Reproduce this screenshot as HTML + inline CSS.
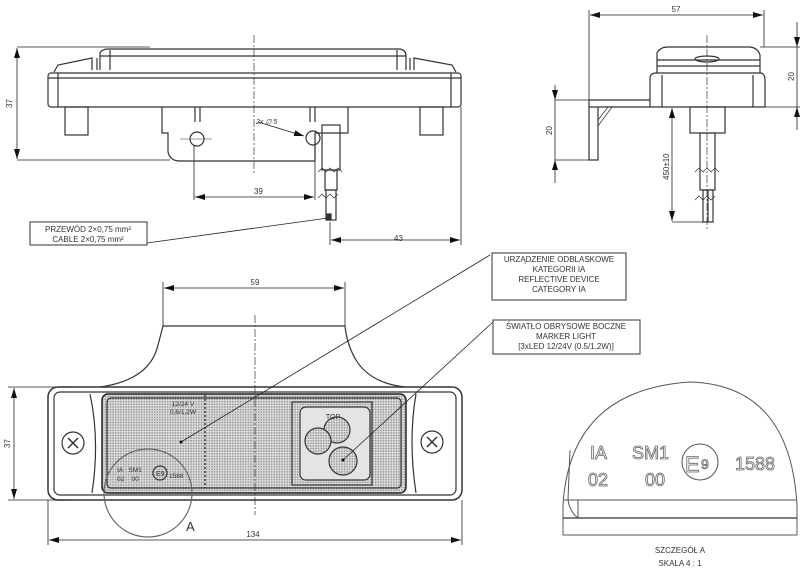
<!DOCTYPE html>
<html><head><meta charset="utf-8"><style>
html,body{margin:0;padding:0;background:#fff}
svg{display:block}
text{font-family:"Liberation Sans",sans-serif;fill:#333}
</style></head><body>
<svg width="810" height="578" viewBox="0 0 810 578" xmlns="http://www.w3.org/2000/svg">
<defs>
<marker id="ar" viewBox="0 0 10 6" refX="10" refY="3" markerWidth="10" markerHeight="6" orient="auto-start-reverse" markerUnits="userSpaceOnUse"><path d="M0,0L10,3L0,6z" fill="#111"/></marker>
<pattern id="dots" width="2.6" height="2.6" patternUnits="userSpaceOnUse"><rect width="2.6" height="2.6" fill="#ddd"/><circle cx="1.3" cy="1.3" r="0.8" fill="#888"/></pattern>
</defs>
<g fill="none" stroke="#333" stroke-width="1.2">
<!-- TOP VIEW -->
<line x1="254" y1="35" x2="254" y2="175" stroke-dasharray="8,2,2,2" stroke-width="0.7"/>
<path d="M100,70 L100,53 Q102,49 108,49 L400,49 Q406,50 406,56 L406,70"/>
<line x1="110" y1="50" x2="110" y2="70"/><line x1="397" y1="50" x2="397" y2="70"/>
<line x1="100" y1="56" x2="406" y2="56"/>
<path d="M92,70 L92,58 L58,65 L54,72"/><path d="M97,70 L97,58"/>
<path d="M414,70 L414,58 L452,65 L456,72"/><path d="M410,70 L410,58"/>
<rect x="48" y="73" width="413" height="34" rx="3"/>
<line x1="48" y1="78" x2="461" y2="78"/>
<line x1="58" y1="73" x2="58" y2="107"/><line x1="451" y1="73" x2="451" y2="107"/>
<rect x="65" y="107" width="23" height="28"/><rect x="420" y="107" width="23" height="28"/>
<path d="M162,107 L162,133 L168,133 L168,152 Q170,161 180,161 L315,161 L315,133 L348,133 L348,107"/>
<path d="M195,107 L195,122 M200,107 L200,122 M310,107 L310,122 M315,107 L315,122"/>
<circle cx="197" cy="139" r="7"/><circle cx="313" cy="138" r="7"/>
<line x1="180" y1="139" x2="212" y2="139" stroke-width="0.5"/>
<rect x="322" y="125" width="18" height="45"/>
<rect x="325" y="170" width="12" height="20"/>
<rect x="326" y="190" width="10" height="30"/>
<path d="M318,172 l4,-4 l4,4 l4,-4 l4,4 l4,-4 l4,4 M318,198 l4,-4 l4,4 l4,-4 l4,4 l4,-4" stroke-width="0.7"/>
<rect x="327" y="214" width="4" height="6" fill="#333"/>
<g stroke="#222" stroke-width="0.8">
<line x1="17" y1="47" x2="150" y2="47"/><line x1="17" y1="160" x2="170" y2="160"/>
<line x1="17" y1="48" x2="17" y2="159" marker-start="url(#ar)" marker-end="url(#ar)"/>
<line x1="194" y1="145" x2="194" y2="200"/><line x1="315" y1="145" x2="315" y2="200"/>
<line x1="195" y1="197" x2="314" y2="197" marker-start="url(#ar)" marker-end="url(#ar)"/>
<line x1="461" y1="107" x2="461" y2="245"/><line x1="330" y1="222" x2="330" y2="245"/>
<line x1="331" y1="240" x2="460" y2="240" marker-start="url(#ar)" marker-end="url(#ar)"/>
<line x1="258" y1="122" x2="304" y2="136" marker-end="url(#ar)"/>
<line x1="147" y1="243" x2="328" y2="218"/>
</g>
<rect x="30" y="222" width="117" height="23" stroke="#555"/>
</g>
<text x="12" y="108" font-size="8" transform="rotate(-90 12 108)">37</text>
<text x="256" y="124" font-size="7" font-style="italic">2x ∅ 5</text>
<text x="254" y="194" font-size="8">39</text>
<text x="394" y="241" font-size="8">43</text>
<text x="88" y="232" font-size="8" text-anchor="middle">PRZEWÓD 2×0,75 mm²</text>
<text x="88" y="242" font-size="8" text-anchor="middle">CABLE 2×0,75 mm²</text>

<!-- SIDE VIEW -->
<g fill="none" stroke="#333" stroke-width="1.2">
<line x1="707" y1="35" x2="707" y2="230" stroke-dasharray="8,2,2,2" stroke-width="0.7"/>
<path d="M657,73 L657,53 Q660,47 668,47 L750,47 Q758,48 760,55 L760,73"/>
<line x1="657" y1="60" x2="760" y2="60"/><line x1="657" y1="66" x2="760" y2="66"/>
<ellipse cx="707" cy="59" rx="12" ry="3"/>
<path d="M650,107 L650,77 Q651,73 656,73 L761,73 Q765,74 765,80 L765,107"/>
<line x1="662" y1="75" x2="662" y2="107"/><line x1="753" y1="75" x2="753" y2="107"/>
<path d="M589,100 L650,100 M589,107 L765,107 M589,100 L589,160 L598,160 L598,107 M589,107 L598,107"/>
<path d="M598,120 L608,107 M598,126 L612,107" stroke-width="0.7"/>
<rect x="690" y="107" width="35" height="26"/>
<rect x="700" y="133" width="15" height="57"/>
<rect x="703" y="190" width="10" height="32"/>
<line x1="708" y1="190" x2="708" y2="222"/>
<path d="M695,172 l4,-4 l4,4 l4,-4 l4,4 l4,-4 l4,4 M695,200 l4,-4 l4,4 l4,-4 l4,4 l4,-4" stroke-width="0.7"/>
<g stroke="#222" stroke-width="0.8">
<line x1="589" y1="10" x2="589" y2="100"/><line x1="764" y1="10" x2="764" y2="47"/>
<line x1="590" y1="15" x2="763" y2="15" marker-start="url(#ar)" marker-end="url(#ar)"/>
<line x1="760" y1="47" x2="800" y2="47"/><line x1="765" y1="107" x2="800" y2="107"/>
<line x1="797" y1="22" x2="797" y2="47" marker-end="url(#ar)"/>
<line x1="797" y1="130" x2="797" y2="107" marker-end="url(#ar)"/>
<line x1="797" y1="47" x2="797" y2="107"/>
<line x1="555" y1="100" x2="589" y2="100"/><line x1="555" y1="160" x2="589" y2="160"/>
<line x1="555" y1="85" x2="555" y2="100" marker-end="url(#ar)"/>
<line x1="555" y1="183" x2="555" y2="160" marker-end="url(#ar)"/>
<line x1="555" y1="100" x2="555" y2="160"/>
<line x1="672" y1="108" x2="672" y2="221" marker-start="url(#ar)" marker-end="url(#ar)"/>
<line x1="672" y1="222" x2="703" y2="222"/>
</g>
</g>
<text x="676" y="12" font-size="8" text-anchor="middle">57</text>
<text x="794" y="81" font-size="8" transform="rotate(-90 794 81)">20</text>
<text x="552" y="135" font-size="8" transform="rotate(-90 552 135)">20</text>
<text x="669" y="180" font-size="8" transform="rotate(-90 669 180)">450±10</text>

<!-- FRONT VIEW -->
<g fill="none" stroke="#333" stroke-width="1.2">
<path d="M100,387 Q150,380 158,345 Q162,330 163,326 L345,326 Q347,345 356,360 Q370,383 405,387"/>
<rect x="48" y="387" width="414" height="113" rx="10" stroke-width="1.5"/>
<rect x="54" y="392" width="402" height="103" rx="6"/>
<path d="M90,394 Q100,440 92,493 M416,394 Q408,440 416,493"/>
<rect x="102" y="394" width="304" height="99" rx="6" fill="url(#dots)" stroke="#222" stroke-width="1.5"/>
<rect x="107" y="398" width="294" height="90" rx="4"/>
<rect x="292" y="402" width="80" height="83" fill="url(#dots)"/>
<rect x="300" y="407" width="70" height="73" rx="6" fill="#e4e4e4"/>
<circle cx="337" cy="430" r="13" fill="url(#dots)"/>
<circle cx="318" cy="441" r="13" fill="url(#dots)"/>
<circle cx="343" cy="461" r="14" fill="url(#dots)"/>
<circle cx="73" cy="443" r="11"/><circle cx="432" cy="442" r="11"/>
<path d="M68,438 l10,10 M78,438 l-10,10 M427,437 l10,10 M437,437 l-10,10" stroke-width="1.5"/>
<line x1="255" y1="315" x2="255" y2="515" stroke-dasharray="8,2,2,2" stroke-width="0.7"/>
<line x1="205" y1="395" x2="205" y2="488" stroke-dasharray="2,2" stroke-width="1.4"/>
<circle cx="148" cy="493" r="44" stroke="#666"/>
<circle cx="160" cy="473" r="7"/>
<g stroke="#222" stroke-width="0.8">
<line x1="163" y1="282" x2="163" y2="326"/><line x1="345" y1="282" x2="345" y2="326"/>
<line x1="164" y1="288" x2="344" y2="288" marker-start="url(#ar)" marker-end="url(#ar)"/>
<line x1="8" y1="387" x2="70" y2="387"/><line x1="8" y1="500" x2="70" y2="500"/>
<line x1="14" y1="388" x2="14" y2="499" marker-start="url(#ar)" marker-end="url(#ar)"/>
<line x1="48" y1="500" x2="48" y2="545"/><line x1="462" y1="500" x2="462" y2="545"/>
<line x1="49" y1="540" x2="461" y2="540" marker-start="url(#ar)" marker-end="url(#ar)"/>
<line x1="181" y1="442" x2="490" y2="255"/>
<line x1="343" y1="460" x2="493" y2="322"/>
</g>
<rect x="492" y="253" width="134" height="47" stroke="#555"/>
<rect x="493" y="320" width="147" height="34" stroke="#555"/>
</g>
<circle cx="181" cy="442" r="1.5" fill="#000"/><circle cx="343" cy="460" r="1.5" fill="#000"/>
<text x="255" y="285" font-size="8" text-anchor="middle">59</text>
<text x="10" y="448" font-size="8" transform="rotate(-90 10 448)">37</text>
<text x="253" y="537" font-size="8" text-anchor="middle">134</text>
<text x="186" y="531" font-size="13">A</text>
<text x="183" y="406" font-size="6.5" text-anchor="middle">12/24 V</text>
<text x="183" y="414" font-size="6.5" text-anchor="middle">0,6/1,2W</text>
<text x="333" y="419" font-size="7" text-anchor="middle">TOP</text>
<text x="117" y="472" font-size="6.5">IA&#160;&#160;&#160;SM1</text>
<text x="117" y="481" font-size="6.5">02&#160;&#160;&#160;&#160;00</text>
<text x="156" y="476" font-size="7">E9</text>
<text x="169" y="478" font-size="6.5">1588</text>
<g font-size="8" text-anchor="middle">
<text x="559" y="262">URZĄDZENIE ODBLASKOWE</text>
<text x="559" y="272">KATEGORII IA</text>
<text x="559" y="282">REFLECTIVE DEVICE</text>
<text x="559" y="292">CATEGORY IA</text>
<text x="566" y="329">ŚWIATŁO OBRYSOWE BOCZNE</text>
<text x="566" y="339">MARKER LIGHT</text>
<text x="566" y="349">[3xLED 12/24V (0.5/1.2W)]</text>
</g>

<!-- DETAIL A -->
<g fill="none" stroke="#555" stroke-width="1">
<path d="M563,535 L563,505 Q570,390 690,382 Q790,385 797,505 L797,535"/>
<line x1="563" y1="500" x2="797" y2="500"/>
<line x1="563" y1="518" x2="797" y2="518" stroke-width="1.5"/>
<line x1="563" y1="535" x2="797" y2="535"/>
<path d="M570,450 L568,500 Q570,512 578,518 L578,500"/>
<circle cx="700" cy="462" r="18"/>
</g>
<g font-size="18" fill="#fff" stroke="#666" stroke-width="0.8">
<text x="590" y="459" style="fill:#fff">IA</text>
<text x="632" y="459" style="fill:#fff">SM1</text>
<text x="588" y="486" style="fill:#fff">02</text>
<text x="645" y="486" style="fill:#fff">00</text>
<text x="735" y="470" style="fill:#fff">1588</text>
<text x="685" y="472" font-size="22" style="fill:#fff">E</text>
<text x="701" y="469" font-size="14" style="fill:#fff">9</text>
</g>
<text x="680" y="553" font-size="8" text-anchor="middle">SZCZEGÓŁ A</text>
<text x="680" y="566" font-size="8" text-anchor="middle">SKALA 4 : 1</text>
</svg>
</body></html>
